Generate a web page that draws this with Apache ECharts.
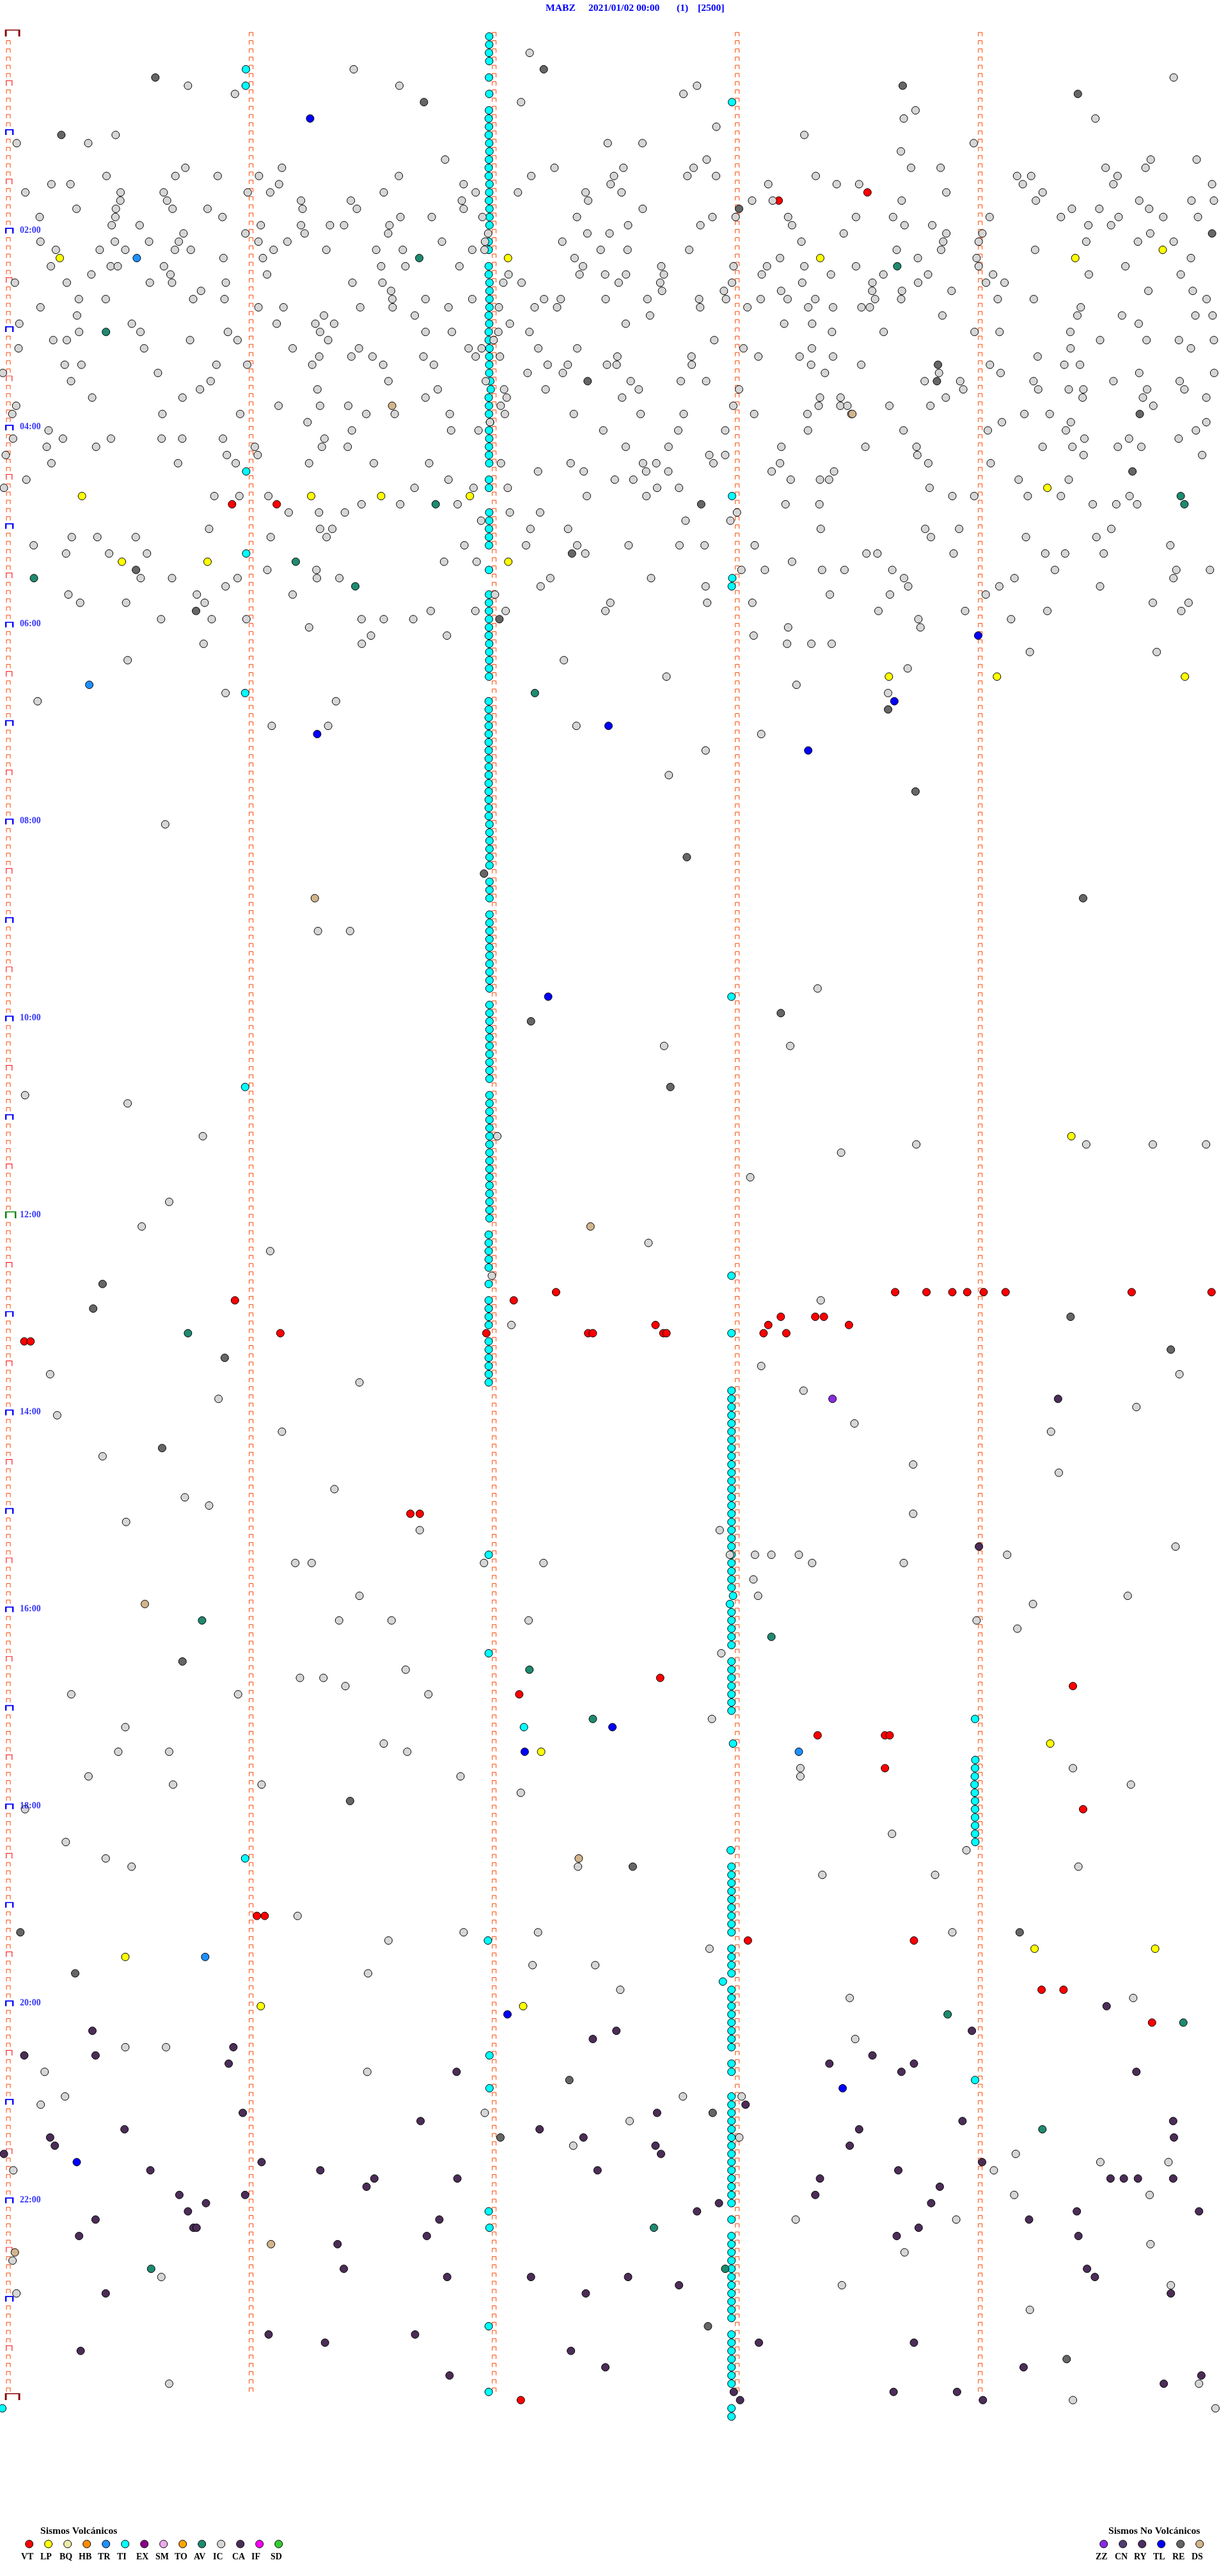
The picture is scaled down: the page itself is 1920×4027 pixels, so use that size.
<!DOCTYPE html>
<html><head><meta charset="utf-8">
<style>html,body{margin:0;padding:0;background:#fff}#c{width:1920px;height:4027px}</style>
<script src="https://cdn.jsdelivr.net/npm/echarts@6/dist/echarts.min.js"></script></head>
<body><div id="c"></div>
<script>
// Horizontal unit: 4704 trace units across the sheet. Vertical unit: one row = 5 minutes.
const volcanicCodes = ['VT','LP','BQ','HB','TR','TI','EX','SM','TO','AV','IC','CA','IF','SD'];
const volcanicColors = ['#ff0000','#ffff00','#eee8aa','#ff8c00','#1e90ff','#00ffff','#8b008b','#eeaaee','#ffa500','#1f8a70','#d6d6d6','#4b2d57','#ff00ff','#32cd32'];
const otherCodes = ['ZZ','CN','RY','TL','RE','DS'];
const otherColors = ['#8a2be2','#4f3f6f','#4d2f5f','#0000ff','#666666','#d2b48c'];

// IC readings: [row, x, x, ...] per part of the sheet
const icPartA = [[4,1355],[6,720,1530],[7,900],[12,443],[13,64,338],[16,710,1080],[17,408,672,834,992,1528],[18,197,270,1069],[19,97,462,627,949,1035,1470],[20,461,640,1153,1344],[21,293,444,661,795,1159,1367],[22,152,442,852,1534],[23,428,535,999,1153,1264,1318,1492],[24,703,940,1167,1487],[25,155,440,571,685,990,1101],[26,214,382,480,670,731,1048,1250,1441,1543],[27,856,1007],[28,195,424,451,628,1460,1553],[29,350,653,1023],[30,57,256,574,659,865,1350,1465],[31,770,1498],[32,302,405,740,860,1503],[33,155,990,1086,1380,1504],[34,295,1241],
[35,74,505,1060,1208,1280],[36,303,538,873,1226],[37,204,256,728,910,1257],[38,71,552,1121,1375],[39,1223,1346,1427],[40,248,312,829,947,1196,1468],[41,11,605],[42,272,807,1488],[43,766,1216],[44,353,699],[45,62,1067,1226,1334],[46,47,622,920,1403,1512],[47,1178],[48,186,1348],[49,50,241,425,619,698,854,1243],[50,179,368,976,1233,1332],[51,22,869,987],[52,197,682,903,1184,1432],[54,101],[55,15],[56,821,917,1028],[57,1385,1533],[58,1106,1222,1321],[60,801,1226,1273],[61,275,373,520,1037,1251],[62,129],[63,253,418,563],[65,1024,1212],[66,539,659,910,1214,1300],[67,864],[68,262,754,1121],[69,307,483,784],[71,617,811,944,1385,1470],[72,1184],[73,1421]];
const icPartB = [[2,461],[6,1102],[7,1050],[8,428],[11,1176],[12,1513],[13,760,893],[15,137,1139],[16,556,820,1089],[17,467,784,1065,1175,1557],[18,208,771,1375],[19,254,416,675,813],[20,201,685,1313,1392],[21,208,894],[22,86,280,642,1161,1250,1451],[23,838,1115,1466],[24,302,682,767],[25,125,290,586,1502],[26,241,288,733,836,1072],[27,633,1420],[28,192,665,965,1242,1370,1513],[29,380,652,750,830,975,1350],[30,360,430,802,961,1236,1505],[31,968,1205,1424],[32,62,241,516,580,752,912,1110,1213,1346,1449,1555],[33,150,343,480,566,1114,1295,1528],[34,21,922],
[35,385,829,1436,1543],[36,62,163,341,460],[37,323,1168],[38,227,277,494,643,1280,1542],[39,54,254,347,797,1081,1337,1495],[40,94,530,607,757,794,1082,1539],[41,453,588],[42,293,848,1040,1137],[43,109,363,522,879,1263],[44,62,373,815],[45,350,1241],[46,155,366,630,886,1051,1321,1525],[47,309],[48,160,265,743,1030,1210,1527],[50,829,993,1425],[51,1149,1210],[52,76,351,618,895,946,1165,1420],[53,493,668,907,992,1388],[54,150,787,858,1461],[55,20,246,377,949,1033],[56,680,908],[57,185,1441],[58,385,501,1255],[59,275,1058,1230],[60,464,608],[62,211,447,643,840,1035,1131,1323],[63,674],[64,133,258,1466],[65,1272,1362],[66,540,926],[67,503,1135],[68,328],[69,770,1141,1314],[70,82,253,369,751],[71,15],[72,1451],[73,144,1319]];
const icPartC = [[5,1360],[9,371],[10,326,1060],[13,594],[14,315],[15,1272,1448],[16,354,467,1099,1252],[17,760,814,1145],[18,69,155,782,1129,1507],[19,489,858],[20,318,832,1228,1428,1514],[21,970,1075,1266],[22,143,285,655,928,1149,1320,1453],[23,329,435,1033,1120],[24,96,489,627,1270],[25,477,613,1025,1223,1360],[26,299,469,829],[27,380,605,1426],[28,143,613,1175],[29,47,248,419,668,1035,1387],[30,206,381,641,712],[31,205,319,509,1263,1433],[32,216,316,686,824,1486],[33,55,164,196,1004],[34,474,991,1162,1443,1509],
[35,1226],[36,51,249,597,693,964],[37,1078,1256,1380,1514],[38,965,1426],[39,55,839],[40,163,656,941,1001],[41,24,461,697,1228,1515],[42,406,542,823,1129,1383],[43,554,841,958,1014,1258,1401],[44,5,84,487,1011,1242,1485],[45,0,83,110,271,428,1282],[46,125,788,885],[47,702,966,1485],[48,325,648,947,1445],[49,1018,1189,1379],[50,179,375,858,972,1146,1236],[51,378,1015,1469],[52,420,659],[53,59],[54,5,40,766,958],[55,425],[56,512,596,801,928,1191],[57,3,1050,1140,1220],[60,8,408,538,1121],[61,430,794,1064],[62,1347],[63,183,225,517,868,944,1092],[65,13,99,282,905,1370,1499],[66,327,750,1359],[67,343,692,1078],[68,43,273,640],[69,1280,1417],[70,229,561,876,1389],[71,382,737],[72,390]];
const icLower = [[74,260,462,1005,1036,1062],[75,1315,1477],[76,163,720],[77,1159],[78,851],[79,1017],[80,288,1134],[81,48,429],[84,347,419,736],[85,972],[87,901],[90,854],[96,211],[109,406,447],[116,1044],[123,848,1009],[129,32],[130,163],[134,259,635],[135,1170,1387,1472,1540],[136,1074],[139,958],[142,216],[145,181],[147,828],[148,345],[151,628],[154,1048],[157,653],[162,972],[163,64,1506],[164,459],[165,1026],[166,279],[167,1451],[168,73],[169,1091],[170,360,1342],[173,131],[174,1166],[175,1352],[177,427],[178,236],[179,267],[180,1166],[181,161],[182,536,919],[184,1501],[185,932,964,985,1020,1286],[186,377,398,618,694,1037,1154],[188,962],[190,459,968,1440],[191,1319],[193,433,500,675,1247],[194,1299],[197,921],[199,518],[200,383,413],[201,441],[202,91,304,547],[205,909],[206,160],[208,490],[209,151,216,520],[211,1022,1370],[212,113,588,1022],[213,221,334,1444],[214,665],[216,32],[219,1139],[220,84],[221,1234],[222,135],[223,168,738,1377],[224,1050,1194],[229,380],[231,592,687,1216],[232,496],[233,906],[235,680,760],[236,470],[238,792],[239,1085,1447],[244,1092],[245,160,212],[248,57,469],[251,83,872,947],[252,52],[253,619],[254,804],[256,944],[257,732],[258,1297],[259,1405,1492],[260,17,1269],[263,1295,1468],[266,1016,1221],[269,1469],[270,1155],[271,16],[273,206],[274,1075,1495],[275,21],[277,1315],[286,216,1531],[288,1370],[289,1552]];
const caLower = [[166,1351],[184,1250],[240,1413],[243,118,787,1241],[244,757],[245,298],[246,31,122,1114],[247,292,1059,1167],[248,583,1151,1451],[252,952],[253,310,839],[254,537,1229,1498],[255,159,689,1097],[256,64,745,1499],[257,70,837,1085],[258,5,844],[259,334,1254],[260,192,409,763,1147],[261,478,584,1047,1418,1435,1453,1498],[262,468,1200],[263,229,313,1041],[264,263,918,1189],[265,240,890,1375,1531],[266,122,561,1314],[267,247,251,1173],[268,101,545,1145,1377],[269,431],[272,439,1388],[273,571,678,802,1398],[274,867],[275,135,748,1495],[280,343,530],[281,415,969,1167],[282,103,729],[284,773,1307],[285,574,1534],[286,1486],[287,937,1141,1222],[288,945,1255]];

// other types: [x, row]
const vtPoints = [[2983,20],[3323,19],[889,57],[1060,57],[2130,153],[3429,153],[3549,153],[3648,153],[3705,153],[3768,153],[3852,153],[4335,153],[4641,153],[900,154],[1968,154],[2991,156],[3123,156],[3156,156],[2511,157],[2943,157],[3252,157],[1074,158],[1863,158],[2253,158],[2271,158],[2541,158],[2553,158],[2925,158],[3012,158],[93,159],[117,159],[1572,180],[1608,180],[2529,200],[4110,201],[1989,202],[3132,207],[3390,207],[3408,207],[3390,211],[4149,216],[984,229],[1014,229],[2865,232],[3501,232],[3990,238],[4074,238],[4413,242],[1995,288]];
const lpPoints = [[229,27],[314,56],[1192,56],[1460,56],[467,64],[795,64],[1946,27],[1800,56],[1947,64],[3142,27],[4119,27],[4454,26],[4012,55],[3405,78],[3819,78],[4539,78],[4104,134],[4023,208],[2073,209],[3963,233],[4425,233],[480,234],[999,240],[2004,240]];
const trPoints = [[524,27],[342,79],[3060,209],[786,234]];
const tiPoints = [[942,4],[941,6],[943,53],[943,63],[2804,8],[2804,56],[2805,66],[2803,67],[939,80],[2802,117],[939,128],[2802,151],[2802,158],[1872,185],[1872,197],[2007,206],[3735,205],[939,222],[1869,232],[1875,246],[3735,249],[1875,250],[1872,265],[1875,267],[1872,279],[1872,287],[9,289],[2799,221],[2808,208],[2769,237],[3736,210],[3735,211],[3734,212],[3733,213],[3734,214],[3735,215],[3735,216],[3735,217],[3735,218],[3735,219],[3736,220]];
// nearly vertical runs of TI: [x, row, row, ...]
const tiRunOne = [[1874,0,1,3,7,13,19,35,39,40,41,49,52,58,59,74,75,76],[1873,2,5,9,11,15,20,45,46,48,50,51,54,55,60,61,62,65,68,69,70,71,72,77,78],[1872,10,12,16,17,25,26,28,29,34,36,37,44,73,81,82,83,84,85,86,87,88,89,90,91,92,93,94,95,146,147,148,149,150,152,154,155,156,157,159,160,161,162,163,164],[1875,14,18,21,22,23,30,31,32,33,38,96,97,98,99,100,101,103,104,105,107,108,109,110,111,112,113,114,115,116,118,119,120,121,122,123,124,125,126,127,129,130,131,132,133,134,135,136,137,138,139,140,141,142,143,144],[1878,42],[1880,43],[1877,47]];
const tiRunTwo = [[2802,165,166,167,168,169,170,171,172,173,174,175,176,177,178,179,180,181,182,183,184,185,186,187,188,189,192,193,194,195,196,198,199,200,201,202,203,204,223,224,225,226,227,228,229,230,231,233,234,235,236,238,239,240,241,242,243,244,245,247,248,251,252,253,254,255,256,257,258,259,260,261,262,263,264,266,268,269,270,271,272,273,274,275,276,277,278,280,281,282,283,284,285,286,289,290],[2808,190],[2796,191]];
const avPoints = [[406,36],[130,66],[1133,64],[1361,67],[1606,27],[1669,57],[3437,28],[4523,56],[4537,57],[2049,80],[720,158],[774,193],[2955,195],[2028,199],[2271,205],[3630,241],[4533,242],[3993,255],[2505,267],[579,272],[2778,272]];
const zzPoints = [[3189,166]];
const tlPoints = [[1188,10],[3747,73],[3426,81],[2331,84],[1215,85],[3096,87],[2100,117],[2346,206],[2010,209],[1944,241],[3228,250],[294,259]];
const rePoints = [[595,5],[235,12],[521,65],[751,70],[2083,4],[1624,8],[2831,21],[2251,42],[2686,57],[2191,63],[1913,71],[3458,6],[4129,7],[4643,24],[3593,40],[3589,42],[4366,46],[4338,53],[3402,82],[3507,92],[2631,100],[1854,102],[4149,105],[2991,119],[2034,120],[2568,128],[393,152],[357,155],[4101,156],[4485,160],[861,161],[621,172],[699,198],[1341,215],[2424,223],[3906,231],[288,236],[78,231],[2181,249],[2730,253],[1917,256],[2712,279],[4086,283]];
const dsPoints = [[1502,45],[3265,46],[1206,105],[2262,145],[555,191],[2217,222],[1038,269],[57,270]];

// sheet furniture
const rulerColumns = [32,962,1893,2824,3755];
const halfHourRows = [6,18,30,42,54,66,78,90,102,114,126,138,150,162,174,186,198,210,222,234,246,258,270,282];
const hourRows = [12,24,36,48,60,72,84,96,108,120,132,156,168,180,192,204,216,228,240,252,264,276];
const noonRows = [144];
const edgeRows = [0,288];
const timeLabelRows = [24,48,72,96,120,144,168,192,216,240,264];
const timeLabels = ['02:00','04:00','06:00','08:00','10:00','12:00','14:00','16:00','18:00','20:00','22:00'];
const titleParts = ['MABZ','2021/01/02 00:00','(1)','[2500]'];

const fromRows = (list, offset, scale) => list.flatMap(r => r.slice(1).map(x => [offset + x * scale, r[0]]));
const fromRuns = list => list.flatMap(r => r.slice(1).map(row => [r[0], row]));
const color = {};
volcanicCodes.forEach((c,i)=>color[c]=volcanicColors[i]);
otherCodes.forEach((c,i)=>color[c]=otherColors[i]);

const mark = (name, data) => ({type:'scatter',name,data,symbol:'circle',symbolSize:12,clip:false,silent:true,
  itemStyle:{color:color[name],borderColor:'#000',borderWidth:1,opacity:1},progressive:0});
const BR = 'path://M0 10L0 0L10 0L10 10';
const bracket = (name,data,w,h,col,lw) => ({type:'scatter',name,data,symbol:BR,symbolSize:[w,h],symbolOffset:[0,-h/2+ (h<7?-0.3:0)],clip:false,silent:true,progressive:0,
  itemStyle:{color:'none',borderColor:col,borderWidth:lw,opacity:1}});

const allRows = Array.from({length:288},(_,i)=>i);
const tickData = [];
rulerColumns.forEach((x,ci)=>allRows.forEach(r=>{ if(ci>0 || r%6!==0) tickData.push([x,r]); }));

const series = [
  bracket('ticks',tickData,6,6,'#ff4500',1),
  bracket('halfHour',halfHourRows.map(r=>[35,r]),9,8,'#ff0000',1),
  bracket('hour',hourRows.map(r=>[36,r]),11,8,'#0000ff',2),
  bracket('noon',noonRows.map(r=>[41,r]),15,10,'#008000',2),
  bracket('edge',edgeRows.map(r=>[48,r]),21,10,'#8b0000',2),
  mark('VT',vtPoints), mark('LP',lpPoints), mark('TR',trPoints),
  mark('TI',tiPoints.concat(fromRuns(tiRunOne),fromRuns(tiRunTwo))),
  mark('AV',avPoints),
  mark('IC',fromRows(icPartA,0,1).concat(fromRows(icPartB,1568,1),fromRows(icPartC,3136,1),fromRows(icLower,0,3))),
  mark('CA',fromRows(caLower,0,3)),
  mark('ZZ',zzPoints), mark('TL',tlPoints), mark('RE',rePoints), mark('DS',dsPoints),
  {type:'scatter',name:'time',data:timeLabelRows.map(r=>[76,r]),symbolSize:0,clip:false,silent:true,
   label:{show:true,position:'right',distance:0,offset:[0,-5],color:'#0000ff',fontFamily:'Liberation Serif',fontWeight:'bold',fontSize:14,
     formatter:p=>timeLabels[p.dataIndex]}}
];

const serif = size => 'bold '+size+'px "Liberation Serif"';
const txt = (t,x,y,fill,size) => ({type:'text',silent:true,style:{text:t,x,y,fill,font:serif(size),textVerticalAlign:'middle',textBaseline:'middle'}});
const graphic = [];
[853,920,1058,1091].forEach((x,i)=>graphic.push(txt(titleParts[i],x,13,'#0000ff',15.6)));
graphic.push(txt('Sismos Volcánicos',63,3957,'#000',15.6));
graphic.push(txt('Sismos No Volcánicos',1733,3957,'#000',15.6));
const legendRow = (codes,mx,lx) => codes.forEach((c,i)=>{
  graphic.push({type:'circle',silent:true,shape:{cx:mx+30*i,cy:3977,r:6},style:{fill:color[c],stroke:'#000',lineWidth:1}});
  graphic.push(txt(c,lx+30*i,3997,'#000',14));
});
legendRow(volcanicCodes,45.7,33);
legendRow(otherCodes,1725.7,1713);

const chart = echarts.init(document.getElementById('c'),null,{renderer:'canvas'});
chart.setOption({
  animation:false,backgroundColor:'#fff',
  grid:{left:0,right:0,top:0,bottom:0,containLabel:false},
  xAxis:{type:'value',min:0,max:4704,show:false,splitLine:{show:false}},
  yAxis:{type:'value',inverse:true,min:-4.443,max:309.43,show:false,splitLine:{show:false}},
  tooltip:{show:false},legend:{show:false},
  series,graphic:{elements:graphic}
});
</script></body></html>
